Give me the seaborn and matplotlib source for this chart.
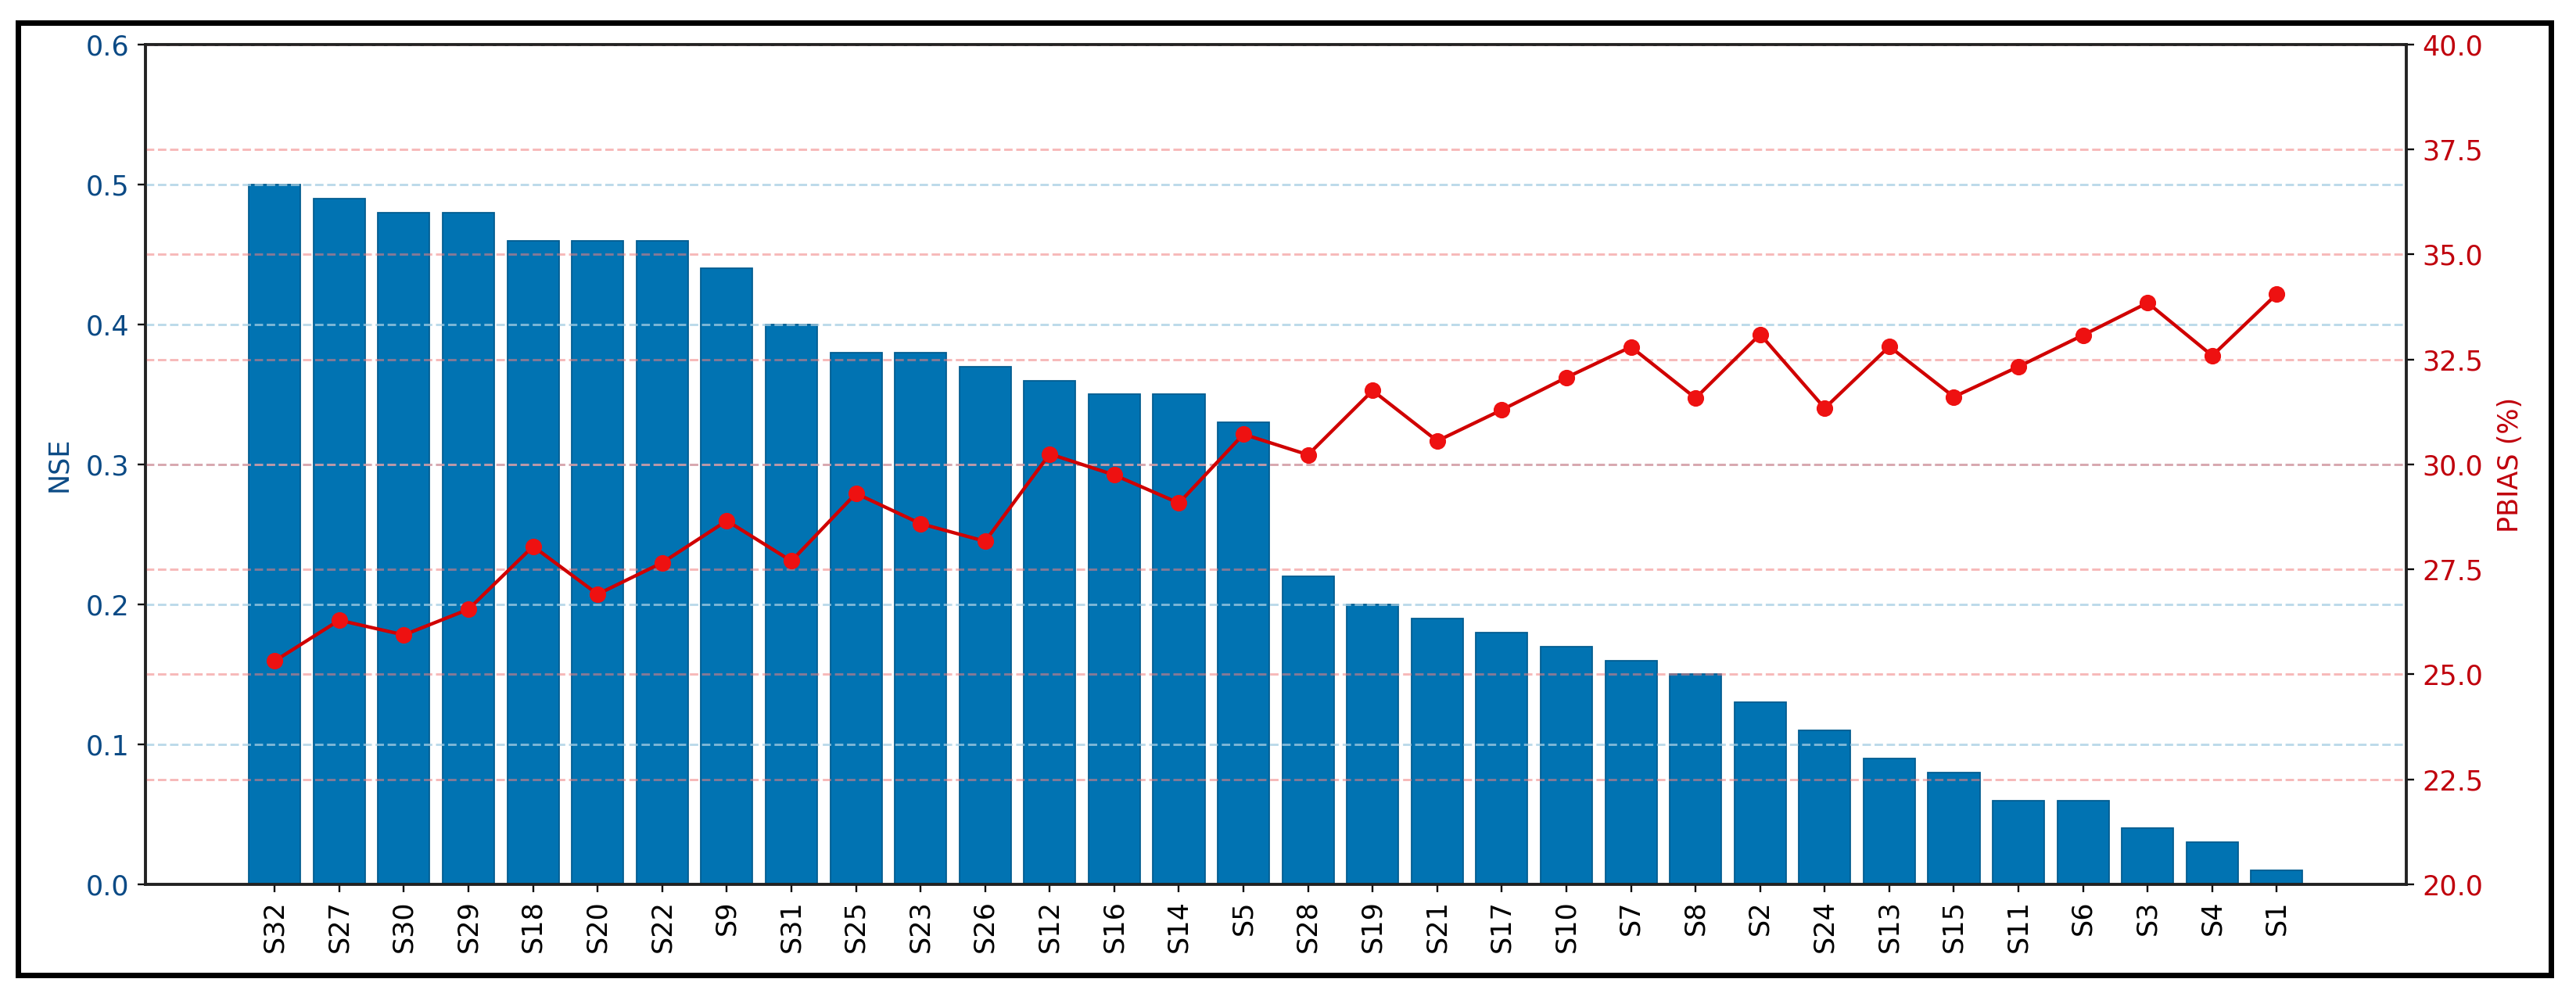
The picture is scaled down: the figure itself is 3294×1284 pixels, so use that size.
import numpy as np
import pandas as pd
import matplotlib
matplotlib.use("Agg")
import matplotlib.pyplot as plt
from matplotlib.patches import Rectangle
import seaborn as sns

# ---- data ----
stations = ["S32", "S27", "S30", "S29", "S18", "S20", "S22", "S9", "S31", "S25",
            "S23", "S26", "S12", "S16", "S14", "S5", "S28", "S19", "S21", "S17",
            "S10", "S7", "S8", "S2", "S24", "S13", "S15", "S11", "S6", "S3",
            "S4", "S1"]
nse = [0.50, 0.49, 0.48, 0.48, 0.46, 0.46, 0.46, 0.44, 0.40, 0.38,
       0.38, 0.37, 0.36, 0.35, 0.35, 0.33, 0.22, 0.20, 0.19, 0.18,
       0.17, 0.16, 0.15, 0.13, 0.11, 0.09, 0.08, 0.06, 0.06, 0.04,
       0.03, 0.01]
pbias = [25.32, 26.29, 25.94, 26.55, 28.05, 26.91, 27.66, 28.66, 27.70, 29.31,
         28.59, 28.17, 30.25, 29.75, 29.08, 30.72, 30.23, 31.76, 30.56, 31.30,
         32.07, 32.80, 31.58, 33.10, 31.34, 32.81, 31.61, 32.33, 33.08, 33.85,
         32.59, 34.06]
nse_ticks = [0.0, 0.1, 0.2, 0.3, 0.4, 0.5, 0.6]
pbias_ticks = [20.0, 22.5, 25.0, 27.5, 30.0, 32.5, 35.0, 37.5, 40.0]

df = pd.DataFrame({"station": stations, "NSE": nse, "PBIAS": pbias,
                   "pos": np.arange(len(stations))})

sns.set_style("ticks")
plt.rcParams["font.family"] = ["DejaVu Sans"]

BLUE_TXT = "#0b4a85"
RED_TXT = "#c0000c"

fig = plt.figure(figsize=(3294 / 210, 1284 / 210), dpi=210)
ax1 = fig.add_axes([0.0565, 0.1192, 0.934 - 0.0565, 0.9556 - 0.1192])

sns.barplot(data=df, x="station", y="NSE", color="#0173b2", saturation=1,
            width=0.8, edgecolor="#005b8f", linewidth=0.6, ax=ax1, zorder=1)
ax1.set_xlim(-2, 33)
ax1.set_ylim(0, 0.6)
ax1.set_yticks(nse_ticks)
ax1.set_yticklabels([f"{t:.1f}" for t in nse_ticks])
ax1.set_xlabel("")
ax1.set_ylabel("NSE", color=BLUE_TXT, fontsize=12, labelpad=6)
ax1.tick_params(axis="y", colors="black", labelcolor=BLUE_TXT, labelsize=12)
ax1.tick_params(axis="x", labelsize=12, labelrotation=90, colors="black")
ax1.set_axisbelow(False)
ax1.yaxis.grid(True, linestyle="--", color="#a6cee3", alpha=0.75, linewidth=1.0)
ax1.xaxis.grid(False)

ax2 = ax1.twinx()
sns.lineplot(data=df, x="pos", y="PBIAS", ax=ax2, color="#d00000",
             linewidth=1.5, marker="o", markersize=6.5,
             markerfacecolor="#ee1111", markeredgecolor="#ee1111")
ax2.set_ylim(20, 40)
ax2.set_yticks(pbias_ticks)
ax2.set_yticklabels([f"{t:.1f}" for t in pbias_ticks])
ax2.set_xlim(-2, 33)
ax2.set_xlabel("")
ax2.set_ylabel("PBIAS (%)", color=RED_TXT, fontsize=12, labelpad=6)
ax2.tick_params(axis="y", colors="black", labelcolor=RED_TXT, labelsize=12)
ax2.yaxis.grid(True, linestyle="--", color="#f08080", alpha=0.55, linewidth=1.0)
ax2.xaxis.grid(False)

for ax in (ax1, ax2):
    for s in ax.spines.values():
        s.set_color("#222222")
        s.set_linewidth(1.2)
    ax.spines["top"].set_visible(True)
    ax.spines["right"].set_visible(True)

# figure border
fig.patches.append(Rectangle((23 / 3294, 1 - 1247 / 1284), (3262 - 23) / 3294,
                             (1247 - 29) / 1284, transform=fig.transFigure,
                             fill=False, edgecolor="black", linewidth=2.4,
                             zorder=10))

fig.savefig("out.png", dpi=210)
